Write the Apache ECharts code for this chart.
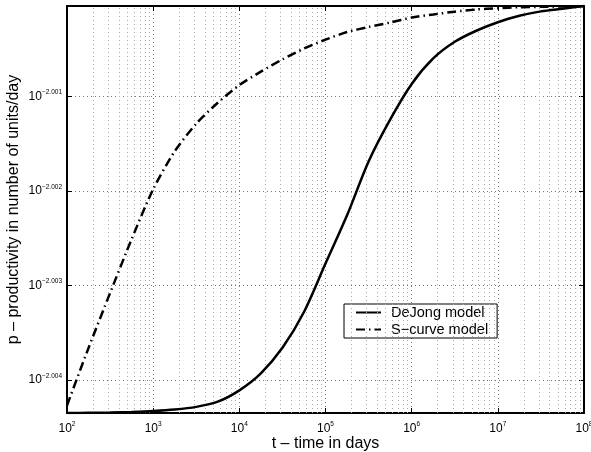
<!DOCTYPE html>
<html>
<head>
<meta charset="utf-8">
<script src="https://cdn.jsdelivr.net/npm/echarts@6/dist/echarts.min.js"></script>
<style>
  html, body { margin: 0; padding: 0; background: #fff; }
  #chart { width: 591px; height: 452px; }
</style>
</head>
<body>
<div id="chart"></div>
<script>
// time in days (log axis), quarter-decade steps
var tDays = [100, 178, 316, 562, 1000, 1778, 3162, 5623, 1e4, 17783, 31623, 56234,
             1e5, 177828, 316228, 562341, 1e6, 1778279, 3162278, 5623413,
             1e7, 17782794, 31622777, 56234133, 1e8];
// log10(p)
var dejongExp = [-2.00435, -2.004348, -2.004345, -2.004339, -2.00433, -2.004314, -2.004285, -2.00423,
                 -2.00411, -2.00393, -2.00366, -2.00328, -2.002767, -2.002257, -2.001686, -2.001243,
                 -2.000865, -2.000595, -2.000419, -2.000302, -2.000212, -2.000144, -2.000097, -2.000068, -2.00004];
var scurveExp = [-2.00427, -2.00366, -2.00308, -2.00251, -2.00198, -2.001579, -2.001286, -2.001064,
                 -2.000877, -2.000735, -2.000605, -2.000491, -2.000396, -2.000316, -2.000262, -2.000215,
                 -2.000162, -2.00013, -2.0001, -2.000077, -2.000064, -2.000053, -2.000049, -2.000045, -2.00004];
var yTicks = [-2.004, -2.003, -2.002, -2.001];
var seriesNames = ['DeJong model', 'S\u2212curve model'];

var FONT = 'Liberation Sans';

function pairs(ys) {
    var out = [];
    for (var i = 0; i < tDays.length; i++) {
        out.push([tDays[i], ys[i]]);
    }
    return out;
}

// minor grid positions 2..9 per decade
var minorLines = [];
for (var d = 100; d < 1e8; d *= 10) {
    for (var k = 2; k <= 9; k++) {
        minorLines.push({ xAxis: k * d });
    }
}

var supRich = {
    b: { fontSize: 12, fontFamily: FONT, color: '#000' },
    s: { fontSize: 6.5, fontFamily: FONT, color: '#000', padding: [0, 0, 8, 0] }
};

var chart = echarts.init(document.getElementById('chart'));
var option = {
    animation: false,
    backgroundColor: '#fff',
    grid: { left: 67, right: 7, top: 6, bottom: 39, show: false, outerBoundsMode: 'none', containLabel: false },
    legend: {
        data: seriesNames,
        orient: 'vertical',
        left: 344,
        top: 304,
        itemWidth: 25,
        itemHeight: 16,
        itemGap: 2,
        padding: [1, 9, 1, 11],
        borderColor: '#000',
        borderWidth: 1,
        backgroundColor: '#fff',
        itemStyle: { color: 'rgba(0,0,0,0)', borderColor: 'rgba(0,0,0,0)', borderWidth: 0 },
        textStyle: { fontSize: 14.5, fontFamily: FONT, color: '#000', padding: [0, 0, 0, 5] }
    },
    xAxis: [{
        type: 'log',
        logBase: 10,
        min: 100,
        max: 1e8,
        name: 't \u2013 time in days',
        nameLocation: 'middle',
        nameGap: 23,
        nameMoveOverlap: false,
        nameTextStyle: { fontSize: 16, fontFamily: FONT, color: '#000' },
        axisLine: { show: true, lineStyle: { color: '#000', width: 2 } },
        axisTick: { show: true, inside: true, length: 5, lineStyle: { color: '#000' } },
        axisLabel: {
            margin: 8,
            formatter: function (v) {
                return '{b|10}{s|' + Math.round(Math.log10(v)) + '}';
            },
            rich: supRich
        },
        splitLine: { show: true, lineStyle: { color: '#777', type: [1, 3], width: 1 } }
    }, {
        type: 'log',
        logBase: 10,
        min: 100,
        max: 1e8,
        position: 'top',
        axisLine: { show: true, lineStyle: { color: '#000', width: 2 } },
        axisTick: { show: true, inside: true, length: 5, lineStyle: { color: '#000' } },
        axisLabel: { show: false },
        splitLine: { show: false }
    }],
    yAxis: [{
        type: 'value',
        min: -2.00435,
        max: -2.00004,
        name: 'p \u2013 productivity in number of units/day',
        nameLocation: 'middle',
        nameGap: 45,
        nameMoveOverlap: false,
        nameTextStyle: { fontSize: 16, fontFamily: FONT, color: '#000' },
        axisLine: { show: true, lineStyle: { color: '#000', width: 2 } },
        axisTick: { show: true, inside: true, length: 5, customValues: yTicks, lineStyle: { color: '#000' } },
        axisLabel: {
            margin: 5,
            customValues: yTicks,
            formatter: function (v) {
                return '{b|10}{s|' + v.toFixed(3).replace('-', '\u2212') + '}';
            },
            rich: supRich
        },
        splitLine: { show: true, lineStyle: { color: '#777', type: [1, 3], width: 1 } }
    }, {
        type: 'value',
        min: -2.00435,
        max: -2.00004,
        position: 'right',
        axisLine: { show: true, lineStyle: { color: '#000', width: 2 } },
        axisTick: { show: true, inside: true, length: 5, customValues: yTicks, lineStyle: { color: '#000' } },
        axisLabel: { show: false },
        splitLine: { show: false }
    }],
    series: [{
        name: 'minor grid',
        type: 'line',
        data: [],
        silent: true,
        markLine: {
            silent: true,
            symbol: ['none', 'none'],
            label: { show: false },
            lineStyle: { color: '#aaa', type: [1, 3], width: 1 },
            data: minorLines
        }
    }, {
        name: seriesNames[0],
        type: 'line',
        data: pairs(dejongExp),
        smooth: 0.3,
        symbol: 'none',
        color: '#000',
        lineStyle: { color: '#000', width: 2.5 },
        z: 5
    }, {
        name: seriesNames[1],
        type: 'line',
        data: pairs(scurveExp),
        smooth: 0.25,
        symbol: 'none',
        color: '#000',
        lineStyle: { color: '#000', width: 2.5, type: [9, 4, 1.5, 4] },
        z: 5
    }]
};
chart.setOption(option);
window.onresize = chart.resize;
</script>
</body>
</html>
